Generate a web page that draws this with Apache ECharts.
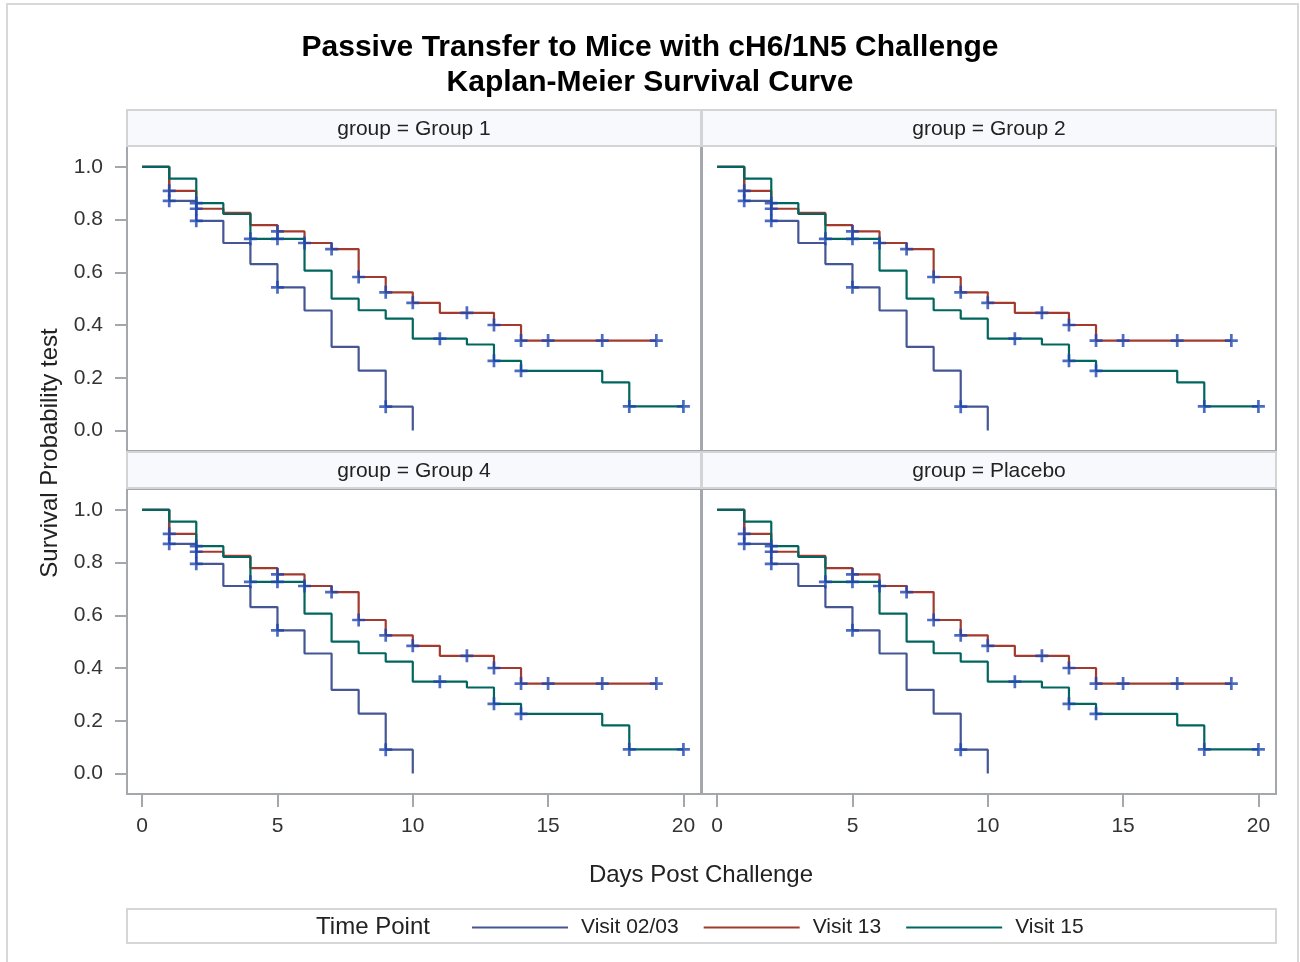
<!DOCTYPE html>
<html>
<head>
<meta charset="utf-8">
<title>Kaplan-Meier Survival Curve</title>
<script src="https://cdn.jsdelivr.net/npm/echarts@6/dist/echarts.min.js"></script>
<style>
  html, body { margin: 0; padding: 0; background: #ffffff; }
  #chart { width: 1300px; height: 962px; }
</style>
</head>
<body>
<div id="chart"></div>
<script>
// Panel (group) headers, in reading order
const panelTitles = ['group = Group 1', 'group = Group 2', 'group = Group 4', 'group = Placebo'];
const seriesNames = ['Visit 02/03', 'Visit 13', 'Visit 15'];
const seriesColors = ['#445694', '#a23a2e', '#01665e'];
const xTicks = [0, 5, 10, 15, 20];
const yTicks = [0, 0.2, 0.4, 0.6, 0.8, 1.0];

// Kaplan-Meier step estimates: event days and survival after each event
const visit0203Days = [0, 1, 2, 3, 4, 5, 6, 7, 8, 9, 10];
const visit0203Surv = [1.0, 0.871, 0.795, 0.711, 0.631, 0.543, 0.455, 0.317, 0.227, 0.090, 0.0];
const visit0203Censored = [1, 2, 5, 9];

const visit13Days = [0, 1, 2, 3, 4, 5, 6, 7, 8, 9, 10, 11, 13, 14, 19];
const visit13Surv = [1.0, 0.909, 0.841, 0.825, 0.779, 0.755, 0.711, 0.688, 0.582, 0.524, 0.484, 0.446, 0.400, 0.341, 0.341];
const visit13Censored = [1, 2, 5, 6, 7, 8, 9, 10, 12, 13, 14, 15, 17, 19];

const visit15Days = [0, 1, 2, 3, 4, 6, 7, 8, 9, 10, 12, 13, 14, 17, 18, 20];
const visit15Surv = [1.0, 0.955, 0.862, 0.821, 0.727, 0.606, 0.500, 0.456, 0.424, 0.348, 0.326, 0.264, 0.226, 0.182, 0.091, 0.091];
const visit15Censored = [2, 4, 5, 11, 13, 14, 18, 20];

const curves = [
  { days: visit0203Days, surv: visit0203Surv, censored: visit0203Censored },
  { days: visit13Days, surv: visit13Surv, censored: visit13Censored },
  { days: visit15Days, surv: visit15Surv, censored: visit15Censored }
];

const FONT = '"Liberation Sans", Arial, Helvetica, sans-serif';

// survival estimate in effect on a given day
function survAt(curve, t) {
  let v = curve.surv[0];
  for (let i = 0; i < curve.days.length; i++) {
    if (curve.days[i] <= t) v = curve.surv[i];
  }
  return v;
}

// panel geometry (2 x 2 lattice)
const colLeft = [127, 702];
const colWidth = 574;
const rowTop = [146, 489];
const rowHeight = 305;
const headerTop = [110, 452];
const headerHeight = 36;

const grids = [], xAxes = [], yAxes = [], series = [], graphics = [];

for (let k = 0; k < 4; k++) {
  const col = k % 2, row = Math.floor(k / 2);
  grids.push({
    left: colLeft[col], top: rowTop[row], width: colWidth, height: rowHeight,
    show: true, borderColor: '#a4a7ab', borderWidth: 2, backgroundColor: '#ffffff',
    containLabel: false
  });
  xAxes.push({
    gridIndex: k, type: 'value', min: -0.56, max: 20.65, position: 'bottom',
    axisLine: { show: false, onZero: false },
    splitLine: { show: false },
    axisTick: { show: row === 1, inside: false, length: 13, lineStyle: { color: '#a4a7ab', width: 2 }, customValues: xTicks },
    axisLabel: { show: row === 1, customValues: xTicks, margin: 22, fontSize: 21, color: '#333', fontFamily: FONT }
  });
  yAxes.push({
    gridIndex: k, type: 'value', min: -0.078, max: 1.079, position: 'left',
    axisLine: { show: false, onZero: false },
    splitLine: { show: false },
    axisTick: { show: col === 0, inside: false, length: 12, lineStyle: { color: '#a4a7ab', width: 2 }, customValues: yTicks },
    axisLabel: {
      show: col === 0, customValues: yTicks, margin: 24, fontSize: 21, color: '#333', fontFamily: FONT,
      formatter: v => v.toFixed(1)
    }
  });

  curves.forEach((c, i) => {
    series.push({
      name: seriesNames[i], type: 'line', step: 'end', xAxisIndex: k, yAxisIndex: k,
      symbol: 'none', silent: true, z: 2 + i,
      color: seriesColors[i],
      itemStyle: { color: seriesColors[i] },
      lineStyle: { color: seriesColors[i], width: 2.2 },
      data: c.days.map((d, j) => [d, c.surv[j]])
    });
  });

  // censoring ticks sit on the curve at the day they occur
  const marks = [];
  curves.forEach(c => c.censored.forEach(t => marks.push([t, survAt(c, t)])));
  series.push({
    name: 'Censored', type: 'scatter', xAxisIndex: k, yAxisIndex: k, silent: true, z: 10,
    symbol: 'path://M4.75,0H7.25V4.75H12V7.25H7.25V12H4.75V7.25H0V4.75H4.75Z', symbolSize: 13,
    itemStyle: { color: '#1f47b2' },
    data: marks
  });

  // group header strip
  graphics.push({
    type: 'rect', z: 5,
    shape: { x: colLeft[col], y: headerTop[row], width: colWidth, height: headerHeight },
    style: { fill: '#f8f9fd', stroke: '#d3d4d6', lineWidth: 2 }
  });
  graphics.push({
    type: 'text', z: 6,
    x: colLeft[col] + colWidth / 2, y: headerTop[row] + headerHeight / 2 + 1,
    style: { text: panelTitles[k], fontSize: 21, fill: '#222', fontFamily: FONT, align: 'center', verticalAlign: 'middle' }
  });
}

// outer frame, shared axis titles and legend frame
graphics.push({
  type: 'rect', z: 0,
  shape: { x: 7, y: 4, width: 1291, height: 970 },
  style: { fill: 'none', stroke: '#d8d8d8', lineWidth: 2 }
});
graphics.push({
  type: 'text', z: 6, x: 701, y: 875,
  style: { text: 'Days Post Challenge', fontSize: 24, fill: '#222', fontFamily: FONT, align: 'center', verticalAlign: 'middle' }
});
graphics.push({
  type: 'text', z: 6, x: 50, y: 453, rotation: Math.PI / 2,
  style: { text: 'Survival Probability test', fontSize: 24, fill: '#222', fontFamily: FONT, align: 'center', verticalAlign: 'middle' }
});
graphics.push({
  type: 'rect', z: 1,
  shape: { x: 127, y: 909, width: 1149, height: 34 },
  style: { fill: '#ffffff', stroke: '#d6d6d6', lineWidth: 2 }
});
graphics.push({
  type: 'text', z: 6, x: 373, y: 927,
  style: { text: 'Time Point', fontSize: 24, fill: '#222', fontFamily: FONT, align: 'center', verticalAlign: 'middle' }
});

const chart = echarts.init(document.getElementById('chart'), null, { renderer: 'canvas' });
chart.setOption({
  animation: false,
  backgroundColor: '#ffffff',
  textStyle: { fontFamily: FONT },
  title: {
    text: 'Passive Transfer to Mice with cH6/1N5 Challenge\nKaplan-Meier Survival Curve',
    left: 'center', top: 25,
    textStyle: { fontSize: 30, fontWeight: 'bold', color: '#000', lineHeight: 35, fontFamily: FONT }
  },
  legend: {
    data: seriesNames.map((n, i) => ({ name: n, itemStyle: { color: seriesColors[i] } })),
    left: 472, top: 917, orient: 'horizontal', padding: 0,
    icon: 'rect', itemWidth: 96, itemHeight: 2, itemGap: 25,
    selectedMode: false,
    textStyle: { fontSize: 21, color: '#222', fontFamily: FONT, padding: [0, 0, 0, 8] }
  },
  grid: grids,
  xAxis: xAxes,
  yAxis: yAxes,
  series: series,
  graphic: graphics
});
</script>
</body>
</html>
